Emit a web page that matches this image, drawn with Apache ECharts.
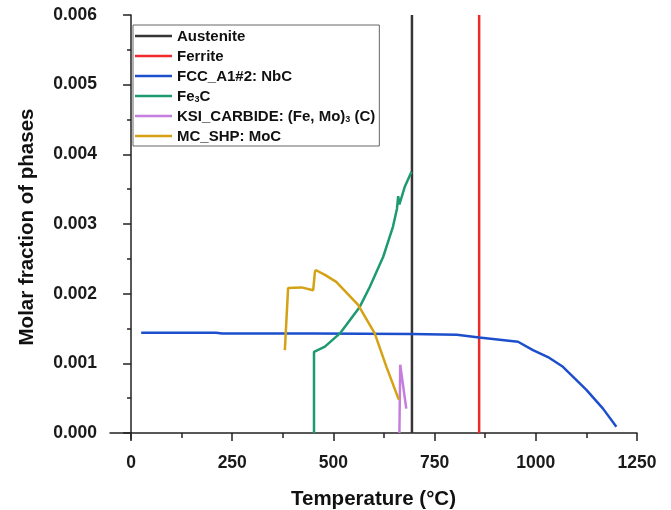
<!DOCTYPE html>
<html>
<head>
<meta charset="utf-8">
<script src="https://cdn.jsdelivr.net/npm/echarts@6/dist/echarts.min.js"></script>
<style>
html,body{margin:0;padding:0;background:#fff;}
#chart{width:671px;height:510px;}
</style>
</head>
<body>
<div id="chart"></div>
<script>
// ---- data ----
const seriesNames = ['Austenite', 'Ferrite', 'FCC_A1#2: NbC', 'Fe3C', 'KSI_CARBIDE: (Fe, Mo)3 (C)', 'MC_SHP: MoC'];

const austeniteT = [694, 694];
const austeniteF = [0, 0.006];

const ferriteT = [860, 860];
const ferriteF = [0, 0.006];

const nbcT = [25, 210, 225, 450, 693, 805, 860, 956, 993, 1030, 1067, 1125, 1166, 1199];
const nbcF = [0.00144, 0.00144, 0.00143, 0.00143, 0.00142, 0.00141, 0.00137, 0.00131, 0.00119, 0.00109, 0.00095, 0.00062, 0.00035, 0.00009];

const fe3cT = [452, 452, 479, 516, 565, 590, 623, 647, 657, 660, 663, 676, 689, 693];
const fe3cF = [0, 0.001166, 0.00124, 0.00143, 0.00181, 0.0021, 0.00253, 0.00296, 0.00322, 0.0034, 0.00328, 0.00353, 0.0037, 0.00375];

const ksiT = [663, 665, 680];
const ksiF = [0, 0.00098, 0.00035];

const mocT = [380, 388, 421, 450, 454, 456, 479, 507, 561, 602, 631, 660, 662];
const mocF = [0.00119, 0.00208, 0.00209, 0.00205, 0.00230, 0.00234, 0.00227, 0.00217, 0.00184, 0.00143, 0.00095, 0.00050, 0.00048];

const xTickLabels = [0, 250, 500, 750, 1000, 1250];
const xMinorTicks = [125, 375, 625, 875, 1125];
const yTickLabels = [0, 0.001, 0.002, 0.003, 0.004, 0.005, 0.006];
const yMinorTicks = [0.0005, 0.0015, 0.0025, 0.0035, 0.0045, 0.0055];

// ---- build ----
const zip = (a, b) => a.map((v, i) => [v, b[i]]);
const colors = ['#363636', '#ee2a2a', '#1d4fcc', '#1e9a72', '#c47fde', '#d4a214'];
const datas = [
  zip(austeniteT, austeniteF),
  zip(ferriteT, ferriteF),
  zip(nbcT, nbcF),
  zip(fe3cT, fe3cF),
  zip(ksiT, ksiF),
  zip(mocT, mocF)
];

const FONT = 'Liberation Sans, Arial, sans-serif';
const xMin = -52, xMax = 1250, yMin = -0.000086, yMax = 0.006;

const chart = echarts.init(document.getElementById('chart'), null, {renderer: 'canvas'});
chart.setOption({
  animation: false,
  backgroundColor: '#ffffff',
  grid: {left: 110, right: 34, top: 15, bottom: 71, containLabel: false, outerBoundsMode: 'none'},
  legend: {
    orient: 'vertical',
    left: 133,
    top: 25,
    padding: [4, 4, 2, 2],
    icon: 'rect',
    itemWidth: 37,
    itemHeight: 2.5,
    itemGap: 5,
    borderColor: '#666',
    borderWidth: 1,
    data: seriesNames,
    formatter: function (name) {
      if (name === 'Fe3C') return '{n|Fe}{s|3}{n|C}';
      if (name.indexOf('KSI') === 0) return '{n|KSI_CARBIDE: (Fe, Mo)}{s|3}{n| (C)}';
      return '{n|' + name + '}';
    },
    textStyle: {
      color: '#111',
      fontFamily: FONT,
      fontWeight: 'bold',
      fontSize: 15,
      rich: {
        n: {fontFamily: FONT, fontWeight: 'bold', fontSize: 15, color: '#111', verticalAlign: 'bottom', lineHeight: 16},
        s: {fontFamily: FONT, fontWeight: 'bold', fontSize: 9, color: '#111', verticalAlign: 'bottom', lineHeight: 14}
      }
    }
  },
  xAxis: [{
    type: 'value', min: xMin, max: xMax,
    name: 'Temperature (°C)', nameLocation: 'middle', nameGap: 50,
    nameTextStyle: {fontFamily: FONT, fontWeight: 'bold', fontSize: 20.5, color: '#111'},
    axisLine: {show: true, lineStyle: {color: '#222', width: 1.5}},
    axisTick: {show: true, length: 8, customValues: xTickLabels, lineStyle: {color: '#222', width: 1.5}},
    axisLabel: {customValues: xTickLabels, margin: 15, fontFamily: FONT, fontWeight: 'bold', fontSize: 17.5, color: '#1a1a1a',
      formatter: v => String(v)},
    splitLine: {show: false}
  }, {
    type: 'value', min: xMin, max: xMax, position: 'bottom',
    axisLine: {show: false},
    axisTick: {show: true, length: 5, customValues: xMinorTicks, lineStyle: {color: '#222', width: 1.5}},
    axisLabel: {show: false},
    splitLine: {show: false}
  }],
  yAxis: [{
    type: 'value', min: yMin, max: yMax,
    name: 'Molar fraction of phases', nameLocation: 'middle', nameGap: 72,
    nameTextStyle: {fontFamily: FONT, fontWeight: 'bold', fontSize: 20.5, color: '#111'},
    axisLine: {show: true, lineStyle: {color: '#222', width: 1.5}},
    axisTick: {show: true, length: 8, customValues: yTickLabels, lineStyle: {color: '#222', width: 1.5}},
    axisLabel: {customValues: yTickLabels, margin: 13, fontFamily: FONT, fontWeight: 'bold', fontSize: 17.5, color: '#1a1a1a',
      formatter: v => v.toFixed(3)},
    splitLine: {show: false}
  }, {
    type: 'value', min: yMin, max: yMax, position: 'left',
    axisLine: {show: false},
    axisTick: {show: true, length: 4, customValues: yMinorTicks, lineStyle: {color: '#222', width: 1.5}},
    axisLabel: {show: false},
    splitLine: {show: false}
  }],
  series: seriesNames.map((n, i) => ({
    name: n,
    type: 'line',
    xAxisIndex: 0,
    yAxisIndex: 0,
    data: datas[i],
    showSymbol: false,
    symbol: 'none',
    smooth: false,
    color: colors[i],
    lineStyle: {color: colors[i], width: 2.5},
    z: 2 + i
  }))
});
</script>
</body>
</html>
